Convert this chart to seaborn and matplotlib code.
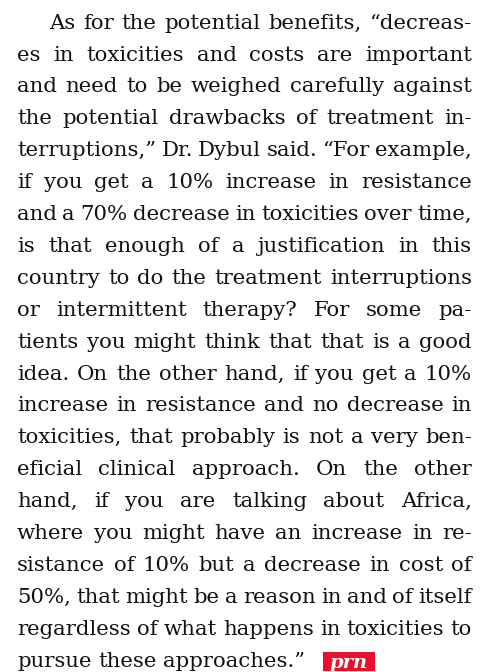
import matplotlib
matplotlib.use("Agg")
import matplotlib.pyplot as plt
import seaborn as sns
from matplotlib.patches import Rectangle

# text of the column, one entry per printed line
lines = [
    "As for the potential benefits, \u201cdecreas-",
    "es in toxicities and costs are important",
    "and need to be weighed carefully against",
    "the potential drawbacks of treatment in-",
    "terruptions,\u201d Dr. Dybul said. \u201cFor example,",
    "if you get a 10% increase in resistance",
    "and a 70% decrease in toxicities over time,",
    "is that enough of a justification in this",
    "country to do the treatment interruptions",
    "or intermittent therapy? For some pa-",
    "tients you might think that that is a good",
    "idea. On the other hand, if you get a 10%",
    "increase in resistance and no decrease in",
    "toxicities, that probably is not a very ben-",
    "eficial clinical approach. On the other",
    "hand, if you are talking about Africa,",
    "where you might have an increase in re-",
    "sistance of 10% but a decrease in cost of",
    "50%, that might be a reason in and of itself",
    "regardless of what happens in toxicities to",
    "pursue these approaches.\u201d",
]
logo_text = "prn"

sns.set_theme(style="white")
plt.rcParams["font.family"] = ["DejaVu Serif", "DejaVu Sans"]

W, H = 483, 672
fig = plt.figure(figsize=(W / 100, H / 100), dpi=100)
fig.patch.set_facecolor("white")
renderer = fig.canvas.get_renderer()

left, right, indent = 17, 472, 49
top_base, step = 28.7, 31.9
color = "#111111"


def word_width(w, size):
    t = fig.text(0, 0, w, fontsize=size)
    bb = t.get_window_extent(renderer)
    t.remove()
    return bb.width


# pick the font size so the tightest line fits with slightly narrow spaces
base = 14.0
sp = word_width("a b", base) - word_width("ab", base)
need = []
for i, line in enumerate(lines[:-1]):
    x0 = indent if i == 0 else left
    words = line.split(" ")
    nat = sum(word_width(w, base) for w in words) + 0.75 * sp * (len(words) - 1)
    need.append((right - x0) / nat)
fsize = base * min(need)

space_w = word_width("a b", fsize) - word_width("ab", fsize)

for i, line in enumerate(lines):
    y = 1 - (top_base + i * step) / H
    x0 = indent if i == 0 else left
    words = line.split(" ")
    widths = [word_width(w, fsize) for w in words]
    last = i == len(lines) - 1
    if last:
        gap = space_w
    else:
        gap = (right - x0 - sum(widths)) / (len(words) - 1)
    x = x0
    for w, wd in zip(words, widths):
        fig.text(x / W, y, w, fontsize=fsize, color=color, va="baseline", ha="left")
        x += wd + gap

# red "prn" logo box after the last line
lx0, lx1, ly0, ly1 = 323, 375, 652, 671
fig.patches.append(Rectangle((lx0 / W, 1 - ly1 / H), (lx1 - lx0) / W, (ly1 - ly0) / H,
                             transform=fig.transFigure, facecolor="#e8112d",
                             edgecolor="none"))
fig.text((lx0 + lx1) / 2 / W, 1 - (ly0 + ly1) / 2 / H - 0.002, logo_text, fontsize=14,
         color="white", fontstyle="italic", fontweight="bold",
         family="DejaVu Serif", ha="center", va="center")

fig.savefig("out.png", dpi=100, facecolor="white")
